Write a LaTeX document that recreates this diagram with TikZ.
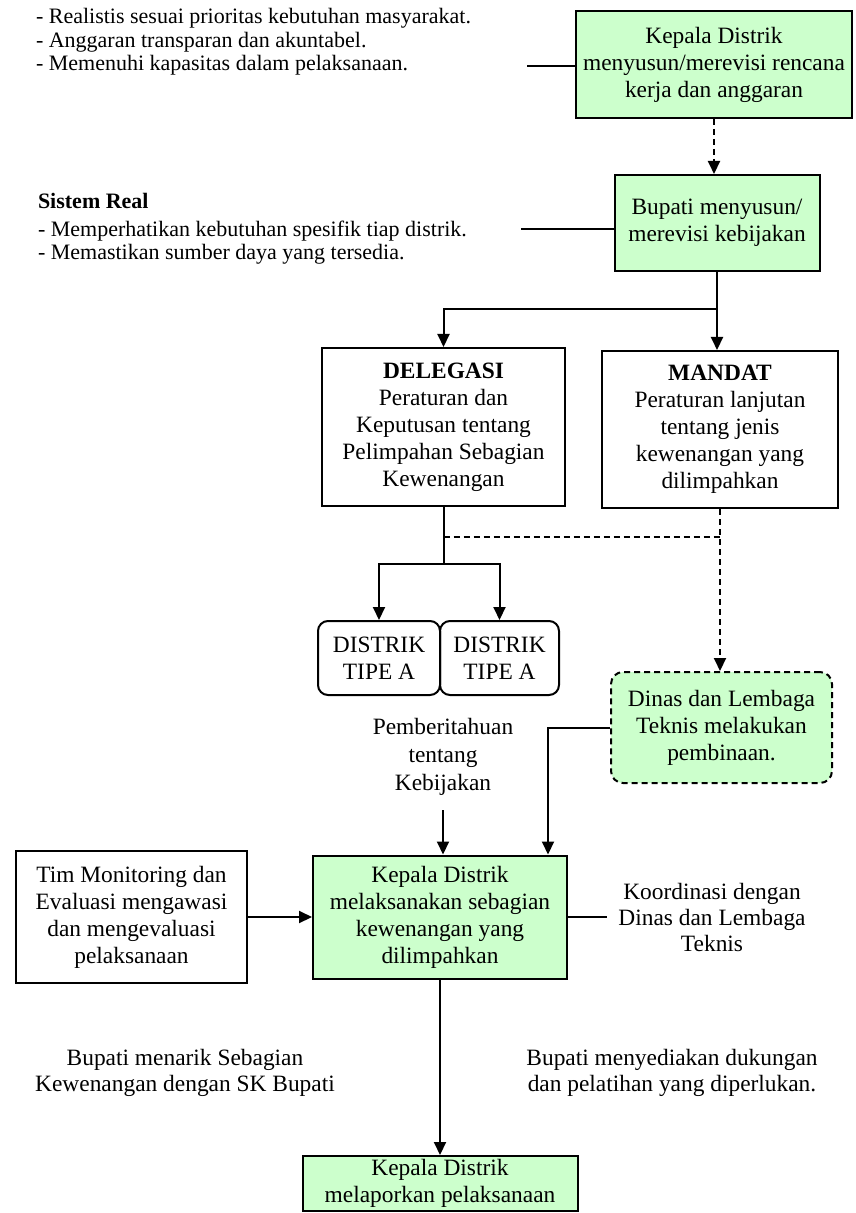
\documentclass[tikz,border=0pt]{standalone}
\usepackage{fontspec}
\setmainfont{Liberation Serif}
\usetikzlibrary{arrows.meta,positioning}
\definecolor{hijaumuda}{RGB}{204,255,204}

\begin{document}
\begin{tikzpicture}[x=0.5pt,y=-0.5pt,>={Triangle[length=6.5pt,width=6pt]},line width=1pt,
	kotak/.style={draw,align=center,font=\fontsize{11.7}{13.5}\selectfont},
	hijaubox/.style={kotak,fill=hijaumuda},
	distrik/.style={kotak,rounded corners=5pt,inner sep=1pt},
	putus/.style={dash pattern=on 3pt off 2pt},
	ket/.style={align=left,font=\fontsize{11}{11.8}\selectfont,inner sep=0pt},
	teks/.style={align=center,font=\fontsize{11.7}{13}\selectfont,inner sep=0pt}]

\useasboundingbox (0,0) rectangle (855,1213);

\node[hijaubox,minimum width=138pt,minimum height=53.5pt] (kd1) at (714,64.5) {Kepala Distrik\\menyusun/merevisi rencana\\kerja dan anggaran};
 \node[ket,anchor=west] (ket1) at (35,42) {- Realistis sesuai prioritas kebutuhan masyarakat.\\- Anggaran transparan dan akuntabel.\\- Memenuhi kapasitas dalam pelaksanaan.};
	\coordinate (c1) at (527,66);

\node[hijaubox,minimum width=102.5pt,minimum height=48pt] (bup) at (717,223) {Bupati menyusun/\\merevisi kebijakan};
 \node[ket,anchor=west] (ket2) at (37,229) {\textbf{Sistem Real}\\[2pt]- Memperhatikan kebutuhan spesifik tiap distrik.\\- Memastikan sumber daya yang tersedia.};
	\coordinate (c2) at (521,229);

\node[kotak,minimum width=121.5pt,minimum height=79pt] (dele) at (443.5,427) {\textbf{DELEGASI}\\Peraturan dan\\Keputusan tentang\\Pelimpahan Sebagian\\Kewenangan};
 \node[kotak,minimum width=118pt,minimum height=78.5pt] (mand) at (720,429.5) {\textbf{MANDAT}\\Peraturan lanjutan\\tentang jenis\\kewenangan yang\\dilimpahkan};

\node[distrik,minimum width=61pt,minimum height=37pt] (dA) at (379,658) {DISTRIK\\TIPE A};
 \node[distrik,minimum width=59.5pt,minimum height=37pt] (dB) at (499.5,658) {DISTRIK\\TIPE A};
\node[hijaubox,putus,rounded corners=6pt,minimum width=110.5pt,minimum height=55.5pt] (dinas) at (721.5,727.5) {Dinas dan Lembaga\\Teknis melakukan\\pembinaan.};
 \node[teks,font=\fontsize{11.7}{14}\selectfont] (pemb) at (443,757) {Pemberitahuan\\tentang\\Kebijakan};
	\coordinate (cpemb) at (443,810);

\node[hijaubox,minimum width=127pt,minimum height=61.5pt] (kd2) at (440,917) {Kepala Distrik\\melaksanakan sebagian\\kewenangan yang\\dilimpahkan};
 \node[kotak,minimum width=115.5pt,minimum height=66pt] (tim) at (131.5,917) {Tim Monitoring dan\\Evaluasi mengawasi\\dan mengevaluasi\\pelaksanaan};
 \node[teks] (koord) at (712,917) {Koordinasi dengan\\Dinas dan Lembaga\\Teknis};
	\coordinate (c3) at (607,917);

\node[teks] (tarik) at (185,1073) {Bupati menarik Sebagian\\Kewenangan dengan SK Bupati};
 \node[teks] (dukung) at (672,1073) {Bupati menyediakan dukungan\\dan pelatihan yang diperlukan.};
\node[hijaubox,inner ysep=1pt,minimum width=137.5pt,minimum height=27.5pt] (kd3) at (440,1183.5) {Kepala Distrik\\melaporkan pelaksanaan};

\coordinate (cab) at (0,309);
\coordinate (cbagi) at (0,564);
\coordinate (cputus) at (0,537);
\coordinate (cdin) at (548,0);

\draw (c1) -- (c1 -| kd1.west);
\draw (c2) -- (c2 -| bup.west);
\draw[->,putus] (kd1.south) -- (kd1.south |- bup.north);
\draw[->] (bup.south) -- (bup.south |- mand.north);
\draw[->] (bup.south |- cab) -| (dele.north);
\draw (dele.south) -- (dele.south |- cbagi);
\draw[->] (dele.south |- cbagi) -| (dA.north);
\draw[->] (dele.south |- cbagi) -| (dB.north);
\draw[putus] (dele.south |- cputus) -- (mand.south |- cputus);
\draw[->,putus] (mand.south) -- (mand.south |- dinas.north);
\draw[->] (cpemb) -- (cpemb |- kd2.north);
\draw[->] (dinas.west) -| (cdin |- kd2.north);
\draw (kd2) -- (c3);
\path[->] (tim) edge (kd2)
			(kd2) edge (kd3);
\end{tikzpicture}
\end{document}
